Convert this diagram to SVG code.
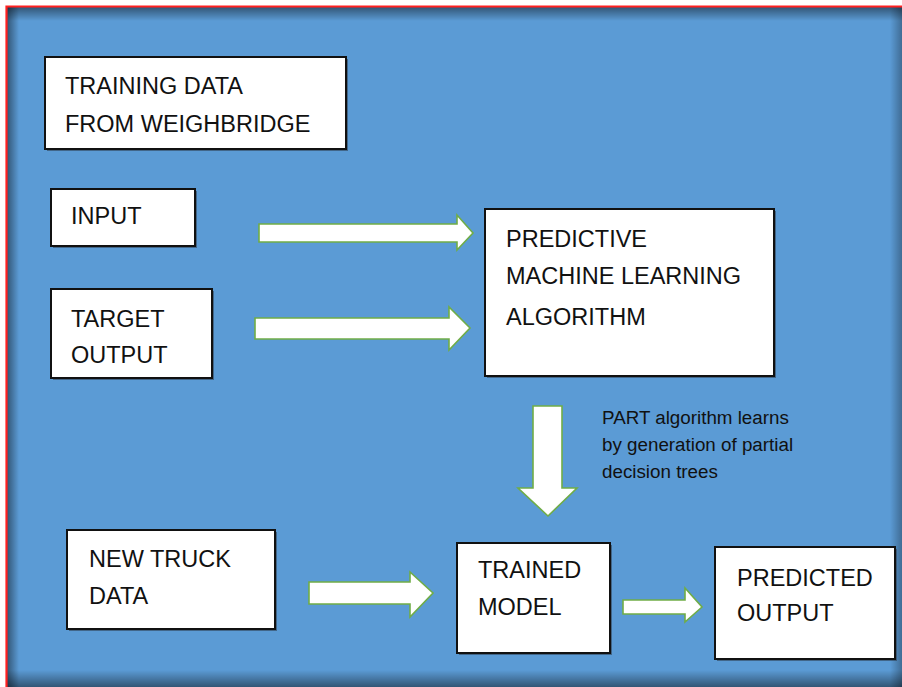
<svg xmlns="http://www.w3.org/2000/svg" width="902" height="687" viewBox="0 0 902 687">
  <defs>
    <style>
      .box { fill: #ffffff; stroke: #111111; stroke-width: 2; }
      .shadow { fill: #2b3a4a; opacity: 0.55; }
      .label { font-family: "Liberation Sans", Arial, sans-serif; font-size: 23.5px; fill: #111111; }
      .note { font-family: "Liberation Sans", Arial, sans-serif; font-size: 18.8px; fill: #111111; }
      .arrow { fill: #ffffff; stroke: #70ad47; stroke-width: 1.6; stroke-linejoin: miter; }
    </style>
    <linearGradient id="shadeTop" x1="0" y1="0" x2="0" y2="1">
      <stop offset="0" stop-color="#000000" stop-opacity="0.45"/>
      <stop offset="1" stop-color="#000000" stop-opacity="0"/>
    </linearGradient>
    <linearGradient id="shadeBottom" x1="0" y1="1" x2="0" y2="0">
      <stop offset="0" stop-color="#000000" stop-opacity="0.45"/>
      <stop offset="1" stop-color="#000000" stop-opacity="0"/>
    </linearGradient>
    <linearGradient id="shadeLeft" x1="0" y1="0" x2="1" y2="0">
      <stop offset="0" stop-color="#000000" stop-opacity="0.45"/>
      <stop offset="1" stop-color="#000000" stop-opacity="0"/>
    </linearGradient>
    <linearGradient id="shadeRight" x1="1" y1="0" x2="0" y2="0">
      <stop offset="0" stop-color="#000000" stop-opacity="0.3"/>
      <stop offset="1" stop-color="#000000" stop-opacity="0"/>
    </linearGradient>
  </defs>

  <!-- page background -->
  <rect x="0" y="0" width="902" height="687" fill="#ffffff"/>

  <!-- blue panel with inner shading and red frame -->
  <g id="panel">
    <rect x="7" y="7" width="895" height="680" fill="#5b9bd5"/>
    <rect x="7" y="7" width="895" height="14" fill="url(#shadeTop)"/>
    <rect x="7" y="7" width="12" height="680" fill="url(#shadeLeft)"/>
    <rect x="7" y="670" width="895" height="17" fill="url(#shadeBottom)"/>
    <rect x="890" y="7" width="12" height="680" fill="url(#shadeRight)"/>
    <path d="M6.5 687 V6.5 H902" fill="none" stroke="#ff2020" stroke-width="2.2"/>
  </g>

  <!-- connectors: block arrows -->
  <g id="connectors">
    <path class="arrow" d="M259 224 H457 V215 L473 233 L457 250 V242 H259 Z"/>
    <path class="arrow" d="M255 318 H449 V307 L470 328 L449 350 V339 H255 Z"/>
    <path class="arrow" d="M533 406 H562 V488 H577 L548 516 L518 488 H533 Z"/>
    <path class="arrow" d="M309 582 H410 V572 L433 593 L410 617 V604 H309 Z"/>
    <path class="arrow" d="M623 600 H685 V588 L702 607 L685 622 V614 H623 Z"/>
  </g>

  <g id="training-data">
    <rect class="shadow" x="47" y="59" width="301" height="92"/>
    <rect class="box" x="45" y="57" width="301" height="92"/>
    <text class="label" x="65" y="94">TRAINING DATA</text>
    <text class="label" x="65" y="132">FROM WEIGHBRIDGE</text>
  </g>

  <g id="input">
    <rect class="shadow" x="53" y="191" width="144" height="57"/>
    <rect class="box" x="51" y="189" width="144" height="57"/>
    <text class="label" x="71" y="224">INPUT</text>
  </g>

  <g id="target-output">
    <rect class="shadow" x="53" y="291" width="161" height="89"/>
    <rect class="box" x="51" y="289" width="161" height="89"/>
    <text class="label" x="71" y="327">TARGET</text>
    <text class="label" x="71" y="363">OUTPUT</text>
  </g>

  <g id="algorithm">
    <rect class="shadow" x="487" y="211" width="289" height="167"/>
    <rect class="box" x="485" y="209" width="289" height="167"/>
    <text class="label" x="506" y="247">PREDICTIVE</text>
    <text class="label" x="506" y="284">MACHINE LEARNING</text>
    <text class="label" x="506" y="325">ALGORITHM</text>
  </g>

  <g id="part-note">
    <text class="note" x="602" y="424">PART algorithm learns</text>
    <text class="note" x="602" y="451">by generation of partial</text>
    <text class="note" x="602" y="478">decision trees</text>
  </g>

  <g id="new-truck-data">
    <rect class="shadow" x="69" y="532" width="208" height="99"/>
    <rect class="box" x="67" y="530" width="208" height="99"/>
    <text class="label" x="89" y="567">NEW TRUCK</text>
    <text class="label" x="89" y="604">DATA</text>
  </g>

  <g id="trained-model">
    <rect class="shadow" x="459" y="545" width="153" height="110"/>
    <rect class="box" x="457" y="543" width="153" height="110"/>
    <text class="label" x="478" y="578">TRAINED</text>
    <text class="label" x="478" y="615">MODEL</text>
  </g>

  <g id="predicted-output">
    <rect class="shadow" x="717" y="549" width="180" height="112"/>
    <rect class="box" x="715" y="547" width="180" height="112"/>
    <text class="label" x="737" y="586">PREDICTED</text>
    <text class="label" x="737" y="621">OUTPUT</text>
  </g>
</svg>
